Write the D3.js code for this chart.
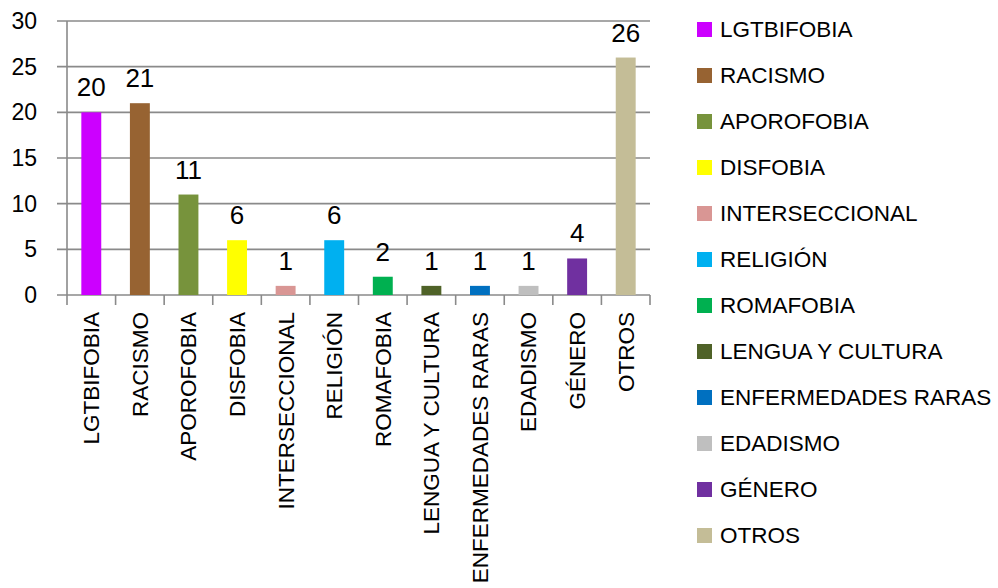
<!DOCTYPE html>
<html>
<head>
<meta charset="utf-8">
<script src="https://cdn.jsdelivr.net/npm/d3@7"></script>
<style>
  body { margin: 0; background: #fff; }
  text { font-family: "Liberation Sans", Arial, sans-serif; fill: #000; }
</style>
</head>
<body>
<div id="chart"></div>
<script>
// chart data
const categories = ["LGTBIFOBIA", "RACISMO", "APOROFOBIA", "DISFOBIA", "INTERSECCIONAL", "RELIGIÓN",
  "ROMAFOBIA", "LENGUA Y CULTURA", "ENFERMEDADES RARAS", "EDADISMO", "GÉNERO", "OTROS"];
const values = [20, 21, 11, 6, 1, 6, 2, 1, 1, 1, 4, 26];
const colors = ["#cc00ff", "#976332", "#77933c", "#ffff00", "#d99694", "#00b0f0",
  "#00b050", "#4f6228", "#0070c0", "#bfbfbf", "#7030a0", "#c4bd97"];
const yTicks = [0, 5, 10, 15, 20, 25, 30];

const width = 998, height = 588;
const svg = d3.select("#chart").append("svg")
  .attr("width", width)
  .attr("height", height);

const x = d3.scaleBand()
  .domain(categories)
  .range([67, 650])
  .paddingInner(0.59)
  .paddingOuter(0.295);

const y = d3.scaleLinear()
  .domain([0, 30])
  .range([295, 21]);

const gridColor = "#8a8a8a";

// horizontal gridlines (they stick out left as tick marks)
svg.selectAll("line.grid")
  .data(yTicks)
  .enter().append("line")
  .attr("class", "grid")
  .attr("x1", 57)
  .attr("x2", 650)
  .attr("y1", d => y(d))
  .attr("y2", d => y(d))
  .attr("stroke", gridColor)
  .attr("stroke-width", 1.6);

// y axis line
svg.append("line")
  .attr("x1", 67).attr("x2", 67)
  .attr("y1", y(30)).attr("y2", y(0) + 10)
  .attr("stroke", gridColor)
  .attr("stroke-width", 1.6);

// x tick marks at band boundaries
const boundaries = categories.map(c => x(c) + x.bandwidth() / 2 + x.step() / 2);
svg.selectAll("line.xtick")
  .data(boundaries)
  .enter().append("line")
  .attr("class", "xtick")
  .attr("x1", d => d).attr("x2", d => d)
  .attr("y1", y(0)).attr("y2", y(0) + 10)
  .attr("stroke", gridColor)
  .attr("stroke-width", 1.6);

// y labels
svg.selectAll("text.ylab")
  .data(yTicks)
  .enter().append("text")
  .attr("class", "ylab")
  .attr("x", 37)
  .attr("y", d => y(d))
  .attr("dy", "0.35em")
  .attr("text-anchor", "end")
  .style("font-size", "23px")
  .text(d => d);

// bars
svg.selectAll("rect.bar")
  .data(values)
  .enter().append("rect")
  .attr("class", "bar")
  .attr("x", (d, i) => x(categories[i]))
  .attr("y", d => y(d))
  .attr("width", x.bandwidth())
  .attr("height", d => y(0) - y(d))
  .attr("fill", (d, i) => colors[i]);

// value labels
svg.selectAll("text.val")
  .data(values)
  .enter().append("text")
  .attr("class", "val")
  .attr("x", (d, i) => x(categories[i]) + x.bandwidth() / 2)
  .attr("y", d => y(d) - 16)
  .attr("text-anchor", "middle")
  .style("font-size", "26px")
  .text(d => d);

// rotated category labels
svg.selectAll("text.xlab")
  .data(categories)
  .enter().append("text")
  .attr("class", "xlab")
  .attr("transform", d => `translate(${x(d) + x.bandwidth() / 2},312) rotate(-90)`)
  .attr("text-anchor", "end")
  .attr("dy", "0.35em")
  .style("font-size", "22.5px")
  .text(d => d);

// legend
const legend = svg.selectAll("g.legend")
  .data(categories)
  .enter().append("g")
  .attr("class", "legend")
  .attr("transform", (d, i) => `translate(697,${29 + i * 46})`);

legend.append("rect")
  .attr("x", 0)
  .attr("y", -7)
  .attr("width", 15)
  .attr("height", 15)
  .attr("fill", (d, i) => colors[i]);

legend.append("text")
  .attr("x", 23)
  .attr("y", 0)
  .attr("dy", "0.35em")
  .style("font-size", "22.5px")
  .text(d => d);
</script>
</body>
</html>
